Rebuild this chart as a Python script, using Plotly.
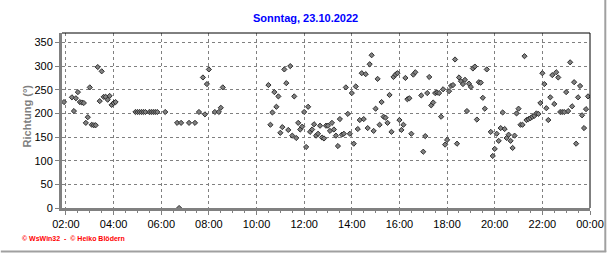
import plotly.graph_objects as go

# ---- data ----
times = [
    "01:55", "02:15", "02:20", "02:25", "02:30", "02:35", "02:40", "02:45", "02:50", "02:55",
    "03:00", "03:05", "03:10", "03:15", "03:20", "03:25", "03:30", "03:35", "03:40", "03:45",
    "03:50", "03:55", "04:00", "04:05",
    "04:55", "05:00", "05:05", "05:10", "05:15", "05:20", "05:30", "05:35", "05:40", "05:45",
    "05:50", "06:10",
    "06:40", "06:45", "06:50", "07:10", "07:25", "07:35", "07:45", "07:50", "07:55", "08:00",
    "08:15", "08:25", "08:30", "08:35",
    "10:30", "10:35", "10:40", "10:45", "10:50", "10:55", "11:00", "11:05", "11:10", "11:15",
    "11:20", "11:25", "11:30", "11:35", "11:40", "11:45", "11:50", "11:55", "12:00", "12:05",
    "12:10", "12:15", "12:20", "12:25", "12:30", "12:35", "12:40", "12:45", "12:50", "12:55",
    "13:00", "13:05", "13:10", "13:15", "13:20", "13:25", "13:30", "13:35", "13:40", "13:45",
    "13:50", "13:55", "14:00", "14:05", "14:10", "14:15", "14:20", "14:25", "14:30", "14:35",
    "14:40", "14:45", "14:50", "14:55", "15:00", "15:05", "15:10", "15:15", "15:20", "15:25",
    "15:30", "15:35", "15:40", "15:45", "15:50", "15:55", "16:00", "16:05", "16:10", "16:15",
    "16:20", "16:25", "16:30", "16:35", "16:40", "16:55", "17:00", "17:05", "17:10", "17:15",
    "17:20", "17:25", "17:30", "17:35", "17:40", "17:45", "17:50", "17:55", "18:00", "18:05",
    "18:10", "18:15", "18:20", "18:25", "18:30", "18:35", "18:40", "18:45", "18:50", "18:55",
    "19:00", "19:05", "19:10", "19:15", "19:20", "19:25", "19:30", "19:35", "19:40", "19:50",
    "19:55", "20:00", "20:05", "20:10", "20:15", "20:20", "20:25", "20:30", "20:35", "20:40",
    "20:45", "20:50", "20:55", "21:00", "21:05", "21:10", "21:15", "21:20", "21:25", "21:30",
    "21:35", "21:40", "21:45", "21:50", "21:55", "22:00", "22:05", "22:10", "22:15", "22:20",
    "22:25", "22:30", "22:35", "22:40", "22:45", "22:50", "22:55", "23:00", "23:05", "23:10",
    "23:15", "23:20", "23:25", "23:30", "23:35", "23:40", "23:45", "23:50", "23:55",
]
direction = [
    224, 234, 205, 232, 245, 224, 223, 222, 180, 192,
    255, 176, 175, 175, 298, 226, 289, 235, 235, 229,
    237, 218, 222, 224,
    203, 203, 203, 203, 203, 203, 203, 203, 203, 203,
    203, 203,
    180, 0, 180, 180, 180, 203, 276, 198, 262, 293,
    203, 203, 212, 255,
    260, 176, 202, 245, 214, 236, 159, 171, 293, 264,
    165, 300, 153, 236, 148, 180, 166, 172, 203, 129,
    214, 161, 166, 177, 153, 157, 174, 149, 147, 174,
    174, 163, 180, 166, 153, 131, 188, 155, 157, 255,
    199, 157, 243, 136, 257, 167, 186, 285, 188, 283,
    169, 304, 323, 163, 210, 273, 176, 224, 193, 191,
    180, 239, 161, 277, 282, 285, 186, 165, 176, 275,
    230, 232, 157, 282, 287, 238, 119, 152, 243, 277,
    217, 223, 243, 244, 243, 193, 251, 134, 144, 247,
    258, 260, 314, 136, 276, 268, 262, 271, 205, 263,
    256, 295, 299, 187, 266, 265, 233, 210, 293, 161,
    110, 125, 157, 142, 169, 202, 167, 148, 155, 142,
    127, 153, 200, 210, 176, 176, 321, 186, 188, 190,
    193, 195, 200, 199, 222, 285, 262, 211, 186, 234,
    281, 220, 287, 276, 203, 203, 203, 245, 205, 308,
    215, 266, 136, 234, 258, 196, 169, 209, 236,
]
tick_labels = ["02:00", "04:00", "06:00", "08:00", "10:00", "12:00",
               "14:00", "16:00", "18:00", "20:00", "22:00", "00:00"]
tick_hours = [2, 4, 6, 8, 10, 12, 14, 16, 18, 20, 22, 24]

day = "2022-10-23"
x_vals = [f"{day} {t}:00" for t in times]
tick_vals = [f"{day} {h:02d}:00:00" if h < 24 else "2022-10-24 00:00:00" for h in tick_hours]

# ---- layout geometry (pixels) ----
W, H = 616, 253
L, R, T, B = 62, 597, 33, 208


def px(x):
    return (x - L) / (R - L)


def py(y):
    return (B - y) / (B - T)


GRAY = "#808080"
FONT = "Liberation Sans, Arial, sans-serif"

fig = go.Figure()
fig.add_trace(go.Scatter(
    x=x_vals, y=direction, mode="markers",
    marker=dict(symbol="diamond", size=4, color="#808080",
                line=dict(color="#303030", width=1)),
    showlegend=False, hoverinfo="skip", cliponaxis=True,
))

fig.update_layout(
    width=W, height=H,
    margin=dict(l=L, r=W - R, t=T, b=H - B, pad=0),
    paper_bgcolor="white", plot_bgcolor="white",
    font=dict(family=FONT, size=11, color="black"),
    xaxis=dict(
        type="date",
        range=[f"{day} 01:50:00", "2022-10-24 00:00:00"],
        tickmode="array", tickvals=tick_vals, ticktext=tick_labels,
        showgrid=True, gridcolor=GRAY, gridwidth=1, griddash="3px,3px",
        showline=True, linecolor=GRAY, linewidth=3,
        ticks="outside", ticklen=4, tickcolor=GRAY, tickwidth=1,
        minor=dict(dtick=30 * 60 * 1000, tick0=f"{day} 02:00:00",
                   ticks="outside", ticklen=2, tickcolor=GRAY, showgrid=False),
        zeroline=False, fixedrange=True,
        tickfont=dict(family=FONT, size=11, color="black"),
    ),
    yaxis=dict(
        range=[0, 370], tick0=0, dtick=50,
        showgrid=True, gridcolor=GRAY, gridwidth=1, griddash="3px,3px",
        showline=True, linecolor=GRAY, linewidth=3,
        ticks="outside", ticklen=4, tickcolor=GRAY, tickwidth=1,
        zeroline=False, fixedrange=True,
        tickfont=dict(family=FONT, size=11, color="black"),
    ),
    shapes=[
        dict(type="line", xref="paper", yref="paper", x0=0, x1=1, y0=1, y1=1,
             line=dict(color="black", width=1)),
        dict(type="line", xref="paper", yref="paper", x0=1, x1=1, y0=0, y1=1,
             line=dict(color="black", width=1)),
        dict(type="line", xref="paper", yref="paper", x0=px(612.5), x1=px(612.5),
             y0=py(252), y1=py(0), line=dict(color="#a0a0a0", width=2)),
        dict(type="line", xref="paper", yref="paper", x0=px(0), x1=px(613.5),
             y0=py(251.5), y1=py(251.5), line=dict(color="#a0a0a0", width=2)),
    ],
    annotations=[
        dict(text="<b>Sonntag, 23.10.2022</b>", xref="paper", yref="paper",
             x=px(309), y=py(18), xanchor="center", yanchor="middle",
             showarrow=False, font=dict(family=FONT, size=11, color="#0000ff")),
        dict(text="<b>Richtung (°)</b>", xref="paper", yref="paper",
             x=px(27), y=py(116), xanchor="center", yanchor="middle", textangle=-90,
             showarrow=False, font=dict(family=FONT, size=11, color=GRAY)),
        dict(text="<b>© WsWin32  -  © Heiko Blödern</b>", xref="paper", yref="paper",
             x=px(19), y=py(239), xanchor="left", yanchor="middle",
             showarrow=False, font=dict(family=FONT, size=7, color="#ff0000")),
    ],
)

fig.write_html("out.html")
